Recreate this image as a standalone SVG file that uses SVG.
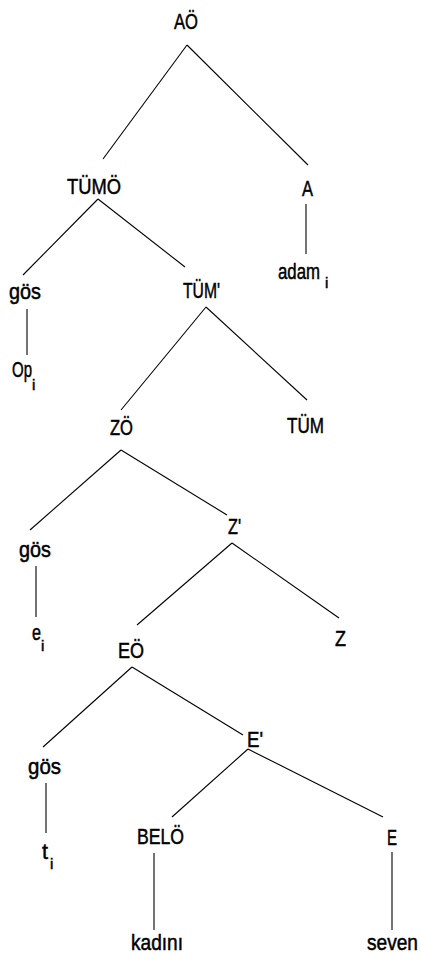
<svg xmlns="http://www.w3.org/2000/svg" width="421" height="958" viewBox="0 0 421 958">
<style>
text{font-family:"Liberation Sans",Arial,sans-serif;fill:#000;stroke:#000;stroke-width:0.5}
.l{font-size:22.5px}
.s{font-size:15px}
#edges line{stroke:#000;stroke-width:1.1}
</style>
<rect width="421" height="958" fill="#fff"/>
<g id="edges">
<line x1="187" y1="45" x2="103" y2="159"/>
<line x1="187" y1="45" x2="308" y2="165"/>
<line x1="98" y1="199" x2="23" y2="275"/>
<line x1="98" y1="199" x2="185" y2="267"/>
<line x1="306" y1="204" x2="306" y2="254"/>
<line x1="27" y1="309" x2="27" y2="355"/>
<line x1="206" y1="307" x2="121" y2="410"/>
<line x1="206" y1="307" x2="307" y2="400"/>
<line x1="121" y1="450" x2="30" y2="530"/>
<line x1="121" y1="450" x2="227" y2="515"/>
<line x1="36" y1="566" x2="36" y2="617"/>
<line x1="232" y1="543" x2="137" y2="625"/>
<line x1="232" y1="543" x2="339" y2="618"/>
<line x1="132" y1="667" x2="43" y2="747"/>
<line x1="132" y1="667" x2="243" y2="735"/>
<line x1="46" y1="783" x2="46" y2="833"/>
<line x1="248" y1="749" x2="172" y2="817"/>
<line x1="248" y1="749" x2="383" y2="817"/>
<line x1="154" y1="853" x2="154" y2="930"/>
<line x1="392" y1="852" x2="392" y2="930"/>
</g>
<g id="n-AO"><text class="l" x="174" y="29" textLength="24" lengthAdjust="spacingAndGlyphs">AÖ</text></g>
<g id="n-TUMO"><text class="l" x="67" y="194" textLength="54" lengthAdjust="spacingAndGlyphs">TÜMÖ</text></g>
<g id="n-A"><text class="l" x="302" y="196" textLength="11" lengthAdjust="spacingAndGlyphs">A</text></g>
<g id="n-adam"><text class="l"><tspan x="278" y="279" textLength="42" lengthAdjust="spacingAndGlyphs">adam</tspan><tspan class="s" x="325" y="288">i</tspan></text></g>
<g id="n-gos1"><text class="l" x="9" y="299" textLength="32" lengthAdjust="spacingAndGlyphs">gös</text></g>
<g id="n-TUMbar"><text class="l" x="183" y="298" textLength="37" lengthAdjust="spacingAndGlyphs">TÜM'</text></g>
<g id="n-Op"><text class="l"><tspan x="12" y="377" textLength="20" lengthAdjust="spacingAndGlyphs">Op</tspan><tspan class="s" x="32" y="390">i</tspan></text></g>
<g id="n-ZO"><text class="l" x="110" y="435" textLength="23" lengthAdjust="spacingAndGlyphs">ZÖ</text></g>
<g id="n-TUM"><text class="l" x="287" y="433" textLength="37" lengthAdjust="spacingAndGlyphs">TÜM</text></g>
<g id="n-gos2"><text class="l" x="19" y="557" textLength="32" lengthAdjust="spacingAndGlyphs">gös</text></g>
<g id="n-Zbar"><text class="l" x="228" y="534" textLength="13" lengthAdjust="spacingAndGlyphs">Z'</text></g>
<g id="n-e"><text class="l"><tspan x="32" y="640" textLength="9" lengthAdjust="spacingAndGlyphs">e</tspan><tspan class="s" x="41" y="651">i</tspan></text></g>
<g id="n-Z"><text class="l" x="335" y="646" textLength="11" lengthAdjust="spacingAndGlyphs">Z</text></g>
<g id="n-EO"><text class="l" x="118" y="658" textLength="26" lengthAdjust="spacingAndGlyphs">EÖ</text></g>
<g id="n-Ebar"><text class="l" x="247" y="747" textLength="16" lengthAdjust="spacingAndGlyphs">E'</text></g>
<g id="n-gos3"><text class="l" x="28" y="774" textLength="33" lengthAdjust="spacingAndGlyphs">gös</text></g>
<g id="n-t"><text class="l"><tspan x="42" y="859" textLength="6" lengthAdjust="spacingAndGlyphs">t</tspan><tspan class="s" x="50" y="869">i</tspan></text></g>
<g id="n-BELO"><text class="l" x="137" y="844" textLength="47" lengthAdjust="spacingAndGlyphs">BELÖ</text></g>
<g id="n-E"><text class="l" x="387" y="845" textLength="10" lengthAdjust="spacingAndGlyphs">E</text></g>
<g id="n-kadini"><text class="l" x="131" y="950" textLength="52" lengthAdjust="spacingAndGlyphs">kadını</text></g>
<g id="n-seven"><text class="l" x="367" y="950" textLength="51" lengthAdjust="spacingAndGlyphs">seven</text></g>
</svg>
